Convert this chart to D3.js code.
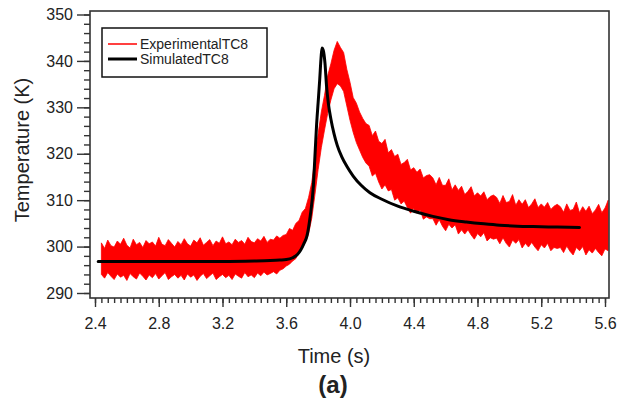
<!DOCTYPE html>
<html>
<head>
<meta charset="utf-8">
<script src="https://cdn.jsdelivr.net/npm/d3@7"></script>
<style>
  html, body { margin: 0; padding: 0; background: #fff; }
  svg { display: block; font-family: "Liberation Sans", Arial, sans-serif; }
</style>
</head>
<body>
<svg id="chart" width="617" height="400"></svg>
<script>
// ---------------- data ----------------
const xTickLabels = [2.4, 2.8, 3.2, 3.6, 4.0, 4.4, 4.8, 5.2, 5.6];
const yTickLabels = [290, 300, 310, 320, 330, 340, 350];

// Experimental TC8: noisy band, upper / lower envelope (K)
const expTime = [
  2.44, 2.46, 2.48, 2.50, 2.52, 2.54, 2.56, 2.58, 2.60, 2.62,
  2.64, 2.66, 2.68, 2.70, 2.72, 2.74, 2.76, 2.78, 2.80, 2.82,
  2.84, 2.86, 2.88, 2.90, 2.92, 2.94, 2.96, 2.98, 3.00, 3.02,
  3.04, 3.06, 3.08, 3.10, 3.12, 3.14, 3.16, 3.18, 3.20, 3.22,
  3.24, 3.26, 3.28, 3.30, 3.32, 3.34, 3.36, 3.38, 3.40, 3.42,
  3.44, 3.46, 3.48, 3.50, 3.52, 3.54, 3.56, 3.58,
  3.60, 3.62, 3.64, 3.66, 3.68, 3.70, 3.72, 3.74, 3.76, 3.78,
  3.80, 3.82, 3.84, 3.86, 3.88, 3.90, 3.92, 3.94, 3.96, 3.98,
  4.00, 4.02, 4.04, 4.06, 4.08, 4.10,
  4.12, 4.14, 4.16, 4.18, 4.20, 4.22, 4.24, 4.26, 4.28, 4.30,
  4.32, 4.34, 4.36, 4.38, 4.40, 4.42, 4.44, 4.46, 4.48, 4.50,
  4.52, 4.54, 4.56, 4.58, 4.60, 4.62, 4.64, 4.66, 4.68, 4.70,
  4.72, 4.74, 4.76, 4.78, 4.80, 4.82, 4.84, 4.86, 4.88, 4.90,
  4.92, 4.94, 4.96, 4.98, 5.00, 5.02, 5.04, 5.06, 5.08, 5.10,
  5.12, 5.14, 5.16, 5.18, 5.20, 5.22, 5.24, 5.26, 5.28, 5.30,
  5.32, 5.34, 5.36, 5.38, 5.40, 5.42, 5.44, 5.46, 5.48, 5.50,
  5.52, 5.54, 5.56, 5.58, 5.60, 5.62
];
const expHigh = [
  300.8, 299.6, 301.4, 300.2, 299.9, 301.2, 300.5, 301.8, 300.3, 299.7,
  301.6, 300.4, 300.9, 299.8, 301.3, 300.6, 301.0, 300.1, 302.0, 300.5,
  300.2, 301.5, 300.7, 299.9, 301.1, 300.4, 301.7, 300.6, 300.1, 301.4,
  300.8, 301.9, 300.3, 300.9, 301.5, 300.2, 301.2, 300.7, 302.1, 300.6,
  301.0, 300.4, 301.6, 300.9, 301.3, 300.5, 302.0, 301.1, 300.8, 301.7,
  301.2, 302.2, 300.9, 301.6, 301.4, 302.3, 301.8, 302.4,
  302.6, 303.9, 303.5, 305.0, 305.6, 307.4, 308.2, 310.6, 313.8, 319.1,
  324.3, 329.0, 332.6, 336.8, 339.4, 342.3, 344.2, 342.9, 341.8, 338.2,
  335.4, 332.1, 330.9, 329.0, 327.6, 326.5,
  326.1, 323.9, 324.9, 322.7, 322.2, 323.1, 320.2, 320.9, 319.4, 319.9,
  317.7, 318.1, 318.8, 316.5, 317.0, 316.0, 316.7, 314.8, 315.3, 315.5,
  314.8, 313.3, 314.9, 313.2, 313.2, 314.6, 312.2, 313.3, 312.1, 313.0,
  311.2, 311.9, 312.9, 310.9, 311.6, 310.9, 311.8, 310.1, 310.8, 311.1,
  310.6, 309.3, 311.0, 309.5, 309.7, 311.2, 308.9, 310.1, 309.1, 310.1,
  308.4, 309.2, 310.3, 308.4, 309.2, 308.5, 309.5, 308.0, 308.7, 309.1,
  308.6, 307.4, 309.2, 307.8, 308.0, 309.6, 307.3, 308.6, 307.6, 308.7,
  307.1, 307.9, 309.1, 307.3, 308.3, 310.0
];
const expLow = [
  294.0, 293.2, 294.4, 293.6, 292.9, 294.1, 293.4, 293.8, 292.7, 294.2,
  293.5, 293.0, 294.3, 293.6, 292.8, 293.9, 293.3, 294.2, 293.0, 293.7,
  294.4, 292.9, 293.5, 294.0, 293.2, 293.8, 292.8, 294.1, 293.4, 293.9,
  292.7, 293.6, 294.2, 293.1, 293.7, 294.3, 292.9, 293.5, 294.0, 293.3,
  293.8, 292.9, 294.1, 293.6, 293.2, 294.4, 293.5, 293.9, 293.3, 294.3,
  293.7, 294.5, 293.9, 294.2, 294.6, 294.1, 294.9, 295.2,
  295.8, 296.2, 296.9, 297.4, 298.8, 299.6, 301.0, 302.7, 306.1, 311.2,
  316.6, 321.3, 325.1, 328.7, 331.6, 334.0, 335.1, 334.6, 333.4, 330.3,
  327.2, 324.6, 322.4, 320.8, 319.2, 318.0,
  317.3, 315.2, 315.8, 313.9, 312.4, 313.3, 312.0, 312.3, 310.0, 310.5,
  309.2, 309.8, 308.4, 307.2, 308.2, 307.2, 307.9, 305.9, 306.4, 306.0,
  306.0, 304.6, 305.8, 304.4, 303.4, 304.8, 304.0, 304.7, 302.7, 303.6,
  302.7, 303.6, 302.5, 301.6, 302.8, 302.1, 303.0, 301.2, 301.9, 301.6,
  301.8, 300.6, 301.9, 300.7, 299.9, 301.4, 300.7, 301.5, 299.7, 300.7,
  299.9, 300.9, 299.9, 299.1, 300.4, 299.7, 300.7, 299.1, 299.8, 299.6,
  299.8, 298.7, 300.1, 299.0, 298.2, 299.8, 299.1, 300.0, 298.2, 299.3,
  298.6, 299.6, 298.7, 298.0, 299.5, 299.1
];

// Simulated TC8 (K)
const simTime = [
  2.42, 2.80, 3.20, 3.40, 3.50, 3.56, 3.60, 3.64, 3.67, 3.69,
  3.71, 3.73, 3.75, 3.77, 3.78, 3.79, 3.80, 3.81, 3.818, 3.824,
  3.832, 3.843, 3.853, 3.864, 3.88, 3.90, 3.92, 3.95, 3.98, 4.02,
  4.07, 4.125, 4.20, 4.30, 4.40, 4.52, 4.62, 4.73, 4.84, 4.94,
  5.05, 5.15, 5.30, 5.44
];
const simTemp = [
  296.8, 296.8, 296.8, 296.9, 297.0, 297.1, 297.2, 297.6, 298.3, 299.2,
  300.6, 302.3, 306.5, 313.0, 319.5, 326.0, 331.0, 336.0, 340.5, 342.8,
  342.3, 339.5, 334.5, 330.9, 327.5, 324.3, 321.8, 319.2, 317.3, 315.2,
  313.2, 311.6, 310.2, 308.7, 307.6, 306.5, 305.8, 305.3, 304.9, 304.6,
  304.4, 304.3, 304.2, 304.1
];

// ---------------- drawing ----------------
const svg = d3.select("#chart");
const frame = { left: 90, right: 609, top: 11, bottom: 298 };

const x = d3.scaleLinear().domain([2.4, 5.6]).range([95, 605]);
const y = d3.scaleLinear().domain([290, 350]).range([293, 14.5]);

const textColor = "#222";
const axisColor = "#333";

svg.append("defs").append("clipPath").attr("id", "clip")
  .append("rect")
  .attr("x", frame.left).attr("y", frame.top)
  .attr("width", frame.right - frame.left).attr("height", frame.bottom - frame.top);

const plot = svg.append("g").attr("clip-path", "url(#clip)");

const expData = expTime.map((t, i) => ({ t, hi: expHigh[i], lo: expLow[i] }));
plot.append("path")
  .datum(expData)
  .attr("fill", "#ff0000")
  .attr("stroke", "#ff0000")
  .attr("stroke-width", 0.8)
  .attr("d", d3.area().x(d => x(d.t)).y0(d => y(d.lo)).y1(d => y(d.hi)));

const simData = simTime.map((t, i) => ({ t, v: simTemp[i] }));
plot.append("path")
  .datum(simData)
  .attr("fill", "none")
  .attr("stroke", "#000")
  .attr("stroke-width", 3)
  .attr("stroke-linejoin", "round")
  .attr("stroke-linecap", "round")
  .attr("d", d3.line().curve(d3.curveMonotoneX).x(d => x(d.t)).y(d => y(d.v)));

// frame
svg.append("rect")
  .attr("x", frame.left).attr("y", frame.top)
  .attr("width", frame.right - frame.left).attr("height", frame.bottom - frame.top)
  .attr("fill", "none").attr("stroke", axisColor).attr("stroke-width", 1.6);

// y axis
const yMinor = d3.range(290, 351, 2);
const yMinorAxis = d3.axisLeft(y).tickValues(yMinor).tickSize(6).tickFormat("");
const yMajorAxis = d3.axisLeft(y).tickValues(yTickLabels).tickSize(13).tickPadding(4)
  .tickFormat(d3.format("d"));
const gyMinor = svg.append("g").attr("transform", `translate(${frame.left},0)`).call(yMinorAxis);
const gyMajor = svg.append("g").attr("transform", `translate(${frame.left},0)`).call(yMajorAxis);

// x axis
const xMinor = d3.range(0, 81).map(i => 2.4 + i * 0.04);
const xMinorAxis = d3.axisBottom(x).tickValues(xMinor).tickSize(5).tickFormat("");
const xMajorAxis = d3.axisBottom(x).tickValues(xTickLabels).tickSize(9).tickPadding(11)
  .tickFormat(d3.format(".1f"));
const gxMinor = svg.append("g").attr("transform", `translate(0,${frame.bottom})`).call(xMinorAxis);
const gxMajor = svg.append("g").attr("transform", `translate(0,${frame.bottom})`).call(xMajorAxis);

[gyMinor, gyMajor, gxMinor, gxMajor].forEach(g => {
  g.select(".domain").remove();
  g.selectAll(".tick line").attr("stroke", axisColor).attr("stroke-width", 1.4);
  g.selectAll(".tick text").attr("fill", textColor)
    .style("font-size", "16px").style("font-family", "'Liberation Sans', Arial, sans-serif");
});

// axis titles
svg.append("text")
  .attr("transform", "translate(29,150) rotate(-90)")
  .attr("text-anchor", "middle")
  .attr("fill", textColor)
  .style("font-size", "20px")
  .text("Temperature (K)");

svg.append("text")
  .attr("x", 334).attr("y", 363)
  .attr("text-anchor", "middle")
  .attr("fill", textColor)
  .style("font-size", "20px")
  .text("Time (s)");

svg.append("text")
  .attr("x", 333).attr("y", 393)
  .attr("text-anchor", "middle")
  .attr("fill", textColor)
  .style("font-size", "24px")
  .style("font-weight", "bold")
  .text("(a)");

// legend
const legend = svg.append("g");
legend.append("rect")
  .attr("x", 102).attr("y", 28).attr("width", 165).attr("height", 49)
  .attr("fill", "#fff").attr("stroke", "#111").attr("stroke-width", 1.5);
const legendItems = [
  { label: "ExperimentalTC8", color: "#ff0000", width: 1.5 },
  { label: "SimulatedTC8", color: "#000", width: 3 }
];
legendItems.forEach((d, i) => {
  const cy = 44 + i * 15;
  legend.append("line")
    .attr("x1", 108).attr("x2", 137).attr("y1", cy).attr("y2", cy)
    .attr("stroke", d.color).attr("stroke-width", d.width);
  legend.append("text")
    .attr("x", 140).attr("y", cy + 5)
    .attr("fill", textColor)
    .style("font-size", "14px")
    .text(d.label);
});
</script>
</body>
</html>
